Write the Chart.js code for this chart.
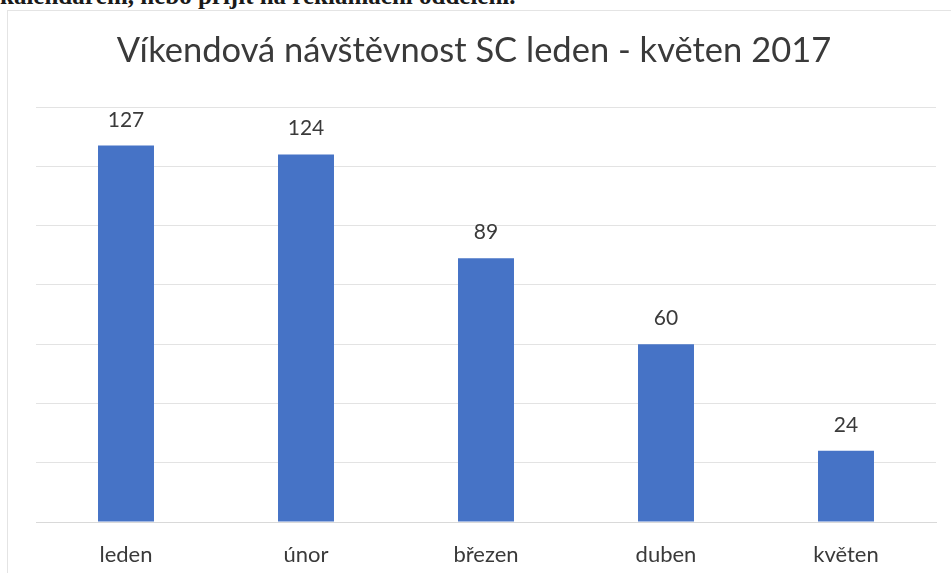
<!DOCTYPE html>
<html>
<head>
<meta charset="utf-8">
<script src="https://cdn.jsdelivr.net/npm/chart.js@4.4.0/dist/chart.umd.min.js"></script>
<style>
  html, body { margin: 0; padding: 0; background: #ffffff; width: 951px; height: 573px; overflow: hidden; }
  #wrap { position: absolute; left: 0; top: 0; width: 951px; height: 573px; }
  #frame { position: absolute; left: 7px; top: 10px; width: 960px; height: 600px; border-left: 1px solid #e4e4e4; border-top: 1px solid #e4e4e4; }
  #doc { position: absolute; left: 0px; top: -18px; font-family: "Liberation Serif", "DejaVu Serif", serif; font-size: 25px; font-weight: bold; color: #1a1a1a; white-space: nowrap; }
  canvas { position: absolute; left: 0; top: 0; }
</style>
</head>
<body>
<div id="wrap">
  <div id="doc">kalendářem, nebo přijít na reklamační oddělení.</div>
  <div id="frame"></div>
  <canvas id="c" width="951" height="573"></canvas>
</div>
<script>
const titleText = "Víkendová návštěvnost SC leden - květen 2017";
const categories = ["leden", "únor", "březen", "duben", "květen"];
const visitors = [127, 124, 89, 60, 24];
const yTicks = [0, 20, 40, 60, 80, 100, 120, 140];

const textColor = "#3a3a3a";
const fontFamily = "Lato, 'Open Sans', sans-serif";

const chartTitle = {
  id: "chartTitle",
  afterDraw(chart) {
    const ctx = chart.ctx;
    ctx.save();
    ctx.fillStyle = textColor;
    ctx.font = "34.5px " + fontFamily;
    ctx.textAlign = "center";
    ctx.textBaseline = "alphabetic";
    ctx.fillText(titleText, 474, 62);
    ctx.restore();
  }
};

const valueLabels = {
  id: "valueLabels",
  afterDatasetsDraw(chart) {
    const ctx = chart.ctx;
    const meta = chart.getDatasetMeta(0);
    ctx.save();
    ctx.fillStyle = textColor;
    ctx.font = "21px " + fontFamily;
    ctx.textAlign = "center";
    ctx.textBaseline = "alphabetic";
    meta.data.forEach((bar, i) => {
      ctx.fillText(String(chart.data.datasets[0].data[i]), bar.x, bar.y - 19);
    });
    ctx.restore();
  }
};

new Chart(document.getElementById("c"), {
  type: "bar",
  data: {
    labels: categories,
    datasets: [{
      data: visitors,
      backgroundColor: "#4673c6",
      borderWidth: 0,
      categoryPercentage: 1.0,
      barPercentage: 0.311
    }]
  },
  options: {
    responsive: false,
    animation: false,
    layout: { padding: { left: 36, right: 15, top: 107, bottom: 7 } },
    plugins: {
      legend: { display: false },
      tooltip: { enabled: false },
      title: { display: false }
    },
    scales: {
      x: {
        grid: { display: false, drawTicks: false },
        border: { display: true, color: "#d9d9d9", width: 1 },
        ticks: { color: textColor, font: { family: fontFamily, size: 22 }, padding: 20 },
        afterFit(scale) { scale.height = 44; }
      },
      y: {
        min: 0,
        max: 140,
        afterBuildTicks(scale) { scale.ticks = yTicks.map(v => ({ value: v })); },
        grid: { color: "#e3e3e3", drawTicks: false, lineWidth: 1 },
        border: { display: false },
        ticks: { display: false }
      }
    }
  },
  plugins: [valueLabels, chartTitle]
});
</script>
</body>
</html>
